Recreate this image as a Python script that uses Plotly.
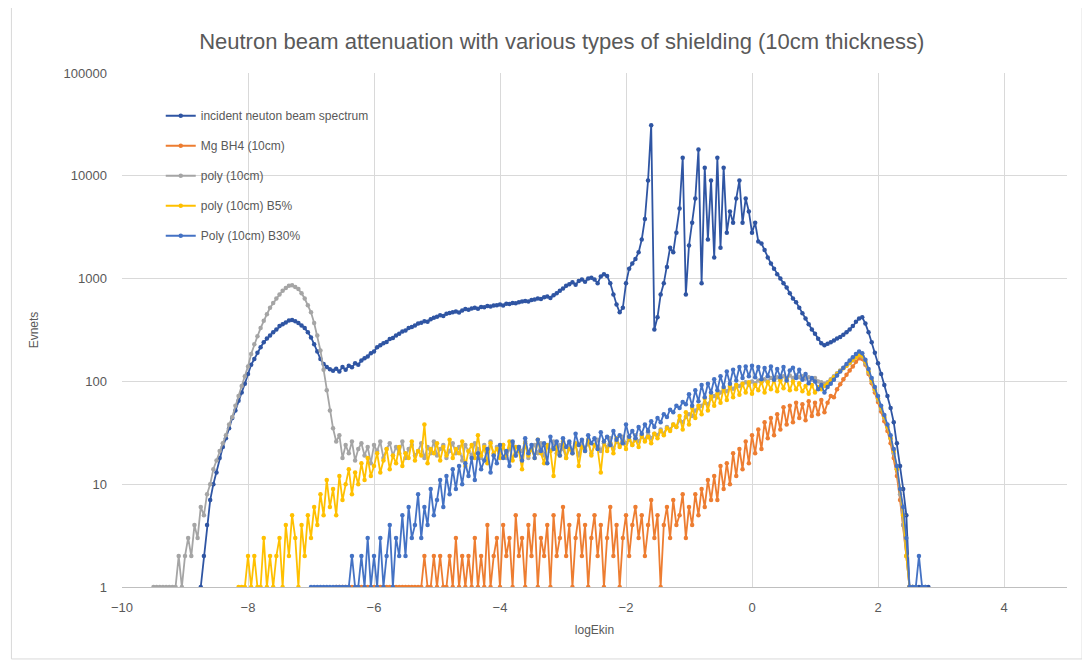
import plotly.graph_objects as go

STEP = 0.05

# incident neutron beam spectrum, bins from -8.75
inc_start = -8.75
incident = [
    1, 2, 4, 7, 10, 13, 18, 23, 28, 35, 44, 52, 65, 78, 95, 118, 145, 165, 190, 215,
    240, 262, 280, 300, 320, 345, 360, 375, 392, 395, 385, 370, 350, 330, 300, 268, 230, 195, 165, 148,
    138, 131, 127, 133, 125, 138, 130, 142, 137, 150, 145, 160, 168, 175, 188, 195, 215, 225, 235, 242,
    258, 265, 280, 290, 305, 312, 330, 338, 350, 365, 372, 385, 380, 402, 415, 425, 440, 432, 455, 462,
    470, 478, 468, 490, 505, 498, 512, 520, 510, 530, 525, 540, 535, 548, 552, 560, 548, 570, 565, 580,
    575, 590, 598, 605, 600, 618, 625, 640, 632, 660, 670, 648, 690, 720, 760, 800, 850, 880, 920, 870,
    950, 980, 930, 1000, 1020, 980, 900, 1050, 1100, 1060, 900, 700, 560, 470, 520, 900, 1250, 1400, 1550, 1800,
    2400, 3800, 9000, 31000, 320, 420, 700, 900, 1300, 2000, 1800, 2800, 4800, 15000, 700, 2100, 3500, 6000, 18000, 900,
    12000, 2400, 9000, 1600, 15000, 2000, 12000, 2800, 4500, 3500, 6000, 9000, 3500, 6000, 4500, 2800, 3500, 2300, 2200, 1900,
    1600, 1400, 1250, 1100, 1000, 900, 820, 720, 640, 590, 520, 460, 410, 360, 320, 290, 260, 235, 225, 232,
    240, 250, 262, 270, 285, 300, 320, 345, 380, 410, 420, 365, 300, 240, 190, 150, 118, 92, 72, 55,
    40, 25, 15, 9, 5, 1, 1, 1, 1, 1, 1, 1,
]

# Mg BH4 (10cm), bins from -6.60
mg_start = -6.60
mg_bh4 = [
    1, 1, 1, 1, 1, 1, 1, 1, 1, 1, 1, 1, 1, 1, 1, 1, 1, 1, 1, 1,
    1, 1, 1, 1, 1, 1, 1, 1, 2, 1, 1, 2, 1, 2, 1, 1, 2, 1, 3, 1,
    2, 1, 2, 1, 3, 1, 2, 1, 4, 1, 2, 3, 1, 4, 2, 3, 1, 5, 2, 3,
    1, 4, 2, 5, 1, 3, 2, 4, 1, 5, 2, 3, 6, 2, 4, 1, 3, 5, 2, 4,
    1, 3, 5, 2, 4, 1, 3, 6, 2, 4, 1, 3, 5, 2, 4, 6, 3, 5, 2, 4,
    7, 3, 5, 1, 4, 6, 3, 7, 4, 5, 8, 3, 6, 4, 8, 5, 9, 6, 11, 7,
    12, 7, 15, 9, 16, 10, 20, 12, 22, 14, 26, 16, 30, 20, 34, 22, 40, 28, 44, 30,
    48, 34, 56, 38, 58, 40, 62, 44, 60, 42, 64, 46, 62, 48, 66, 50, 62, 72, 70, 84,
    94, 105, 116, 128, 140, 155, 168, 165, 145, 118, 96, 78, 63, 51, 41, 33, 25, 18, 12, 7,
    4, 2, 1,
]

# poly (10cm), bins from -9.50
poly_start = -9.50
poly = [
    1, 1, 1, 1, 1, 1, 1, 1, 2, 1, 2, 3, 2, 4, 3, 6, 5, 8, 10, 14,
    17, 21, 25, 30, 38, 45, 58, 72, 90, 112, 140, 185, 230, 275, 330, 390, 450, 520, 580, 640,
    700, 760, 810, 850, 860, 830, 790, 720, 640, 550, 470, 370, 280, 200, 130, 82, 52, 35, 26, 30,
    18, 24, 20, 26, 17, 22, 25, 19, 23, 16, 24, 21, 26, 18, 22, 25, 19, 23, 20, 26,
    18, 22, 24, 19, 21, 25, 18, 23, 20, 26, 19, 22, 24, 18, 21, 25, 20, 23, 17, 24,
    21, 19, 25, 22, 18, 24, 21, 26, 19, 23, 20, 24, 18, 22, 25, 19, 23, 21, 26, 18,
    22, 24, 20, 25, 19, 23, 21, 26, 20, 24, 22, 18, 25, 21, 24, 19, 26, 22, 25, 20,
    24, 27, 21, 25, 23, 28, 22, 26, 24, 29, 25, 27, 24, 30, 26, 29, 27, 32, 28, 31,
    30, 34, 31, 36, 34, 38, 36, 42, 40, 45, 48, 46, 52, 55, 58, 62, 60, 68, 72, 70,
    78, 82, 80, 88, 85, 92, 90, 95, 98, 92, 100, 96, 102, 98, 105, 100, 108, 103, 110, 105,
    112, 107, 114, 108, 115, 110, 112, 106, 110, 104, 108, 100, 98, 95, 98, 105, 112, 120, 128, 135,
    142, 150, 160, 172, 180, 175, 150, 122, 100, 82, 66, 54, 44, 36, 28, 20, 14, 8, 4, 2,
    1, 1, 1,
]

# poly (10cm) B5%, bins from -8.15
b5_start = -8.15
poly_b5 = [
    1, 1, 1, 2, 1, 2, 1, 1, 3, 1, 2, 1, 2, 3, 1, 4, 2, 5, 3, 1,
    4, 2, 5, 3, 6, 4, 8, 5, 11, 6, 9, 5, 12, 7, 10, 14, 8, 13, 10, 16,
    11, 18, 12, 15, 20, 13, 17, 22, 14, 19, 16, 23, 15, 20, 18, 26, 17, 21, 19, 38,
    16, 22, 20, 25, 17, 23, 19, 27, 18, 22, 20, 26, 15, 21, 24, 18, 30, 19, 23, 16,
    25, 20, 22, 18, 24, 19, 26, 17, 23, 21, 14, 25, 19, 22, 18, 27, 20, 16, 24, 21,
    12, 23, 19, 26, 18, 22, 20, 25, 15, 23, 21, 27, 19, 24, 22, 13, 26, 21, 25, 20,
    28, 23, 26, 22, 29, 24, 27, 23, 30, 26, 29, 25, 31, 28, 33, 30, 35, 33, 38, 36,
    46, 34, 50, 38, 55, 44, 58, 48, 68, 52, 72, 58, 76, 62, 85, 66, 90, 70, 92, 74,
    95, 78, 98, 76, 92, 82, 100, 78, 98, 84, 104, 80, 102, 86, 106, 82, 100, 84, 96, 80,
    90, 76, 92, 78, 88, 84, 90, 95, 102, 110, 118, 126, 134, 142, 152, 162, 172, 182, 178, 155,
    125, 102, 84, 68, 55, 45, 36, 28, 21, 14, 9, 5, 2, 1, 1,
]

# Poly (10cm) B30%, bins from -7.00
b30_start = -7.00
poly_b30 = [
    1, 1, 1, 1, 1, 1, 1, 1, 1, 1, 1, 1, 1, 2, 1, 1, 2, 1, 3, 1,
    2, 1, 3, 1, 2, 4, 1, 3, 2, 5, 2, 6, 3, 4, 8, 3, 6, 4, 9, 5,
    7, 11, 6, 12, 8, 14, 9, 15, 10, 16, 12, 18, 11, 20, 14, 17, 22, 13, 19, 16,
    24, 18, 21, 15, 26, 19, 23, 17, 28, 20, 24, 18, 27, 21, 25, 16, 29, 22, 26, 19,
    28, 23, 26, 20, 31, 24, 27, 21, 30, 25, 28, 22, 32, 26, 29, 24, 33, 27, 30, 25,
    38, 29, 33, 28, 36, 31, 38, 33, 41, 36, 44, 40, 48, 45, 53, 50, 58, 55, 63, 60,
    75, 58, 82, 64, 92, 70, 95, 78, 105, 82, 112, 88, 125, 95, 130, 102, 138, 108, 140, 112,
    142, 110, 138, 105, 135, 112, 140, 104, 132, 110, 138, 102, 128, 136, 108, 130, 104, 118, 96, 108,
    100, 84, 92, 78, 88, 95, 104, 114, 125, 136, 148, 160, 172, 185, 195, 188, 162, 132, 108, 88,
    72, 58, 47, 38, 30, 22, 15, 9, 6, 3, 1, 1, 1, 2, 1, 1,
]

x_ticks = [-10, -8, -6, -4, -2, 0, 2, 4]
y_ticks = [1, 10, 100, 1000, 10000, 100000]
y_labels = ["1", "10", "100", "1000", "10000", "100000"]

series = [
    ("incident neuton beam spectrum", inc_start, incident, "#2F55A3"),
    ("Mg BH4 (10cm)", mg_start, mg_bh4, "#ED7D31"),
    ("poly (10cm)", poly_start, poly, "#A5A5A5"),
    ("poly (10cm) B5%", b5_start, poly_b5, "#FFC000"),
    ("Poly (10cm) B30%", b30_start, poly_b30, "#4472C4"),
]

fig = go.Figure()
for i, (name, start, vals, color) in enumerate(series):
    xs = [round(start + STEP * k, 3) for k in range(len(vals))]
    fig.add_trace(go.Scatter(
        x=xs, y=vals, name=name, mode="lines+markers",
        line=dict(color=color, width=1.8),
        marker=dict(color=color, size=4.5),
        legendgroup="g%d" % i,
    ))

grey = "#595959"
fig.update_layout(
    width=1090, height=663,
    paper_bgcolor="white", plot_bgcolor="white",
    margin=dict(l=114, r=31, t=65, b=84),
    title=dict(text="Neutron beam attenuation with various types of shielding (10cm thickness)",
               x=0.508, xanchor="center", y=0.95, yanchor="middle",
               font=dict(family="Liberation Sans Narrow, Liberation Sans, Arial", size=22, color=grey)),
    font=dict(family="Liberation Sans, Arial", size=12, color=grey),
    legend=dict(x=0.041, y=0.945, xanchor="left", yanchor="top",
                bgcolor="rgba(0,0,0,0)", font=dict(size=12, color=grey),
                tracegroupgap=11, itemwidth=30),
    showlegend=True,
)
fig.update_xaxes(range=[-10, 5], tickvals=x_ticks, showgrid=True, gridcolor="#D9D9D9",
                 zeroline=False, showline=True, linecolor="#BFBFBF", ticks="",
                 ticklabelstandoff=8,
                 tickfont=dict(size=13, color=grey),
                 title=dict(text="logEkin", font=dict(size=12, color=grey), standoff=12))
fig.update_yaxes(type="log", range=[0, 5], tickvals=y_ticks, ticktext=y_labels,
                 showgrid=True, gridcolor="#D9D9D9", zeroline=False, showline=False, ticks="",
                 ticklabelstandoff=14,
                 tickfont=dict(size=13, color=grey),
                 title=dict(text="Evnets", font=dict(size=12, color=grey), standoff=22))
fig.add_shape(type="rect", xref="paper", yref="paper", x0=-0.117, x1=1.016, y0=-0.14, y1=1.128,
              line=dict(color="#D9D9D9", width=1), fillcolor="rgba(0,0,0,0)", layer="below")

fig.write_html("out.html")
